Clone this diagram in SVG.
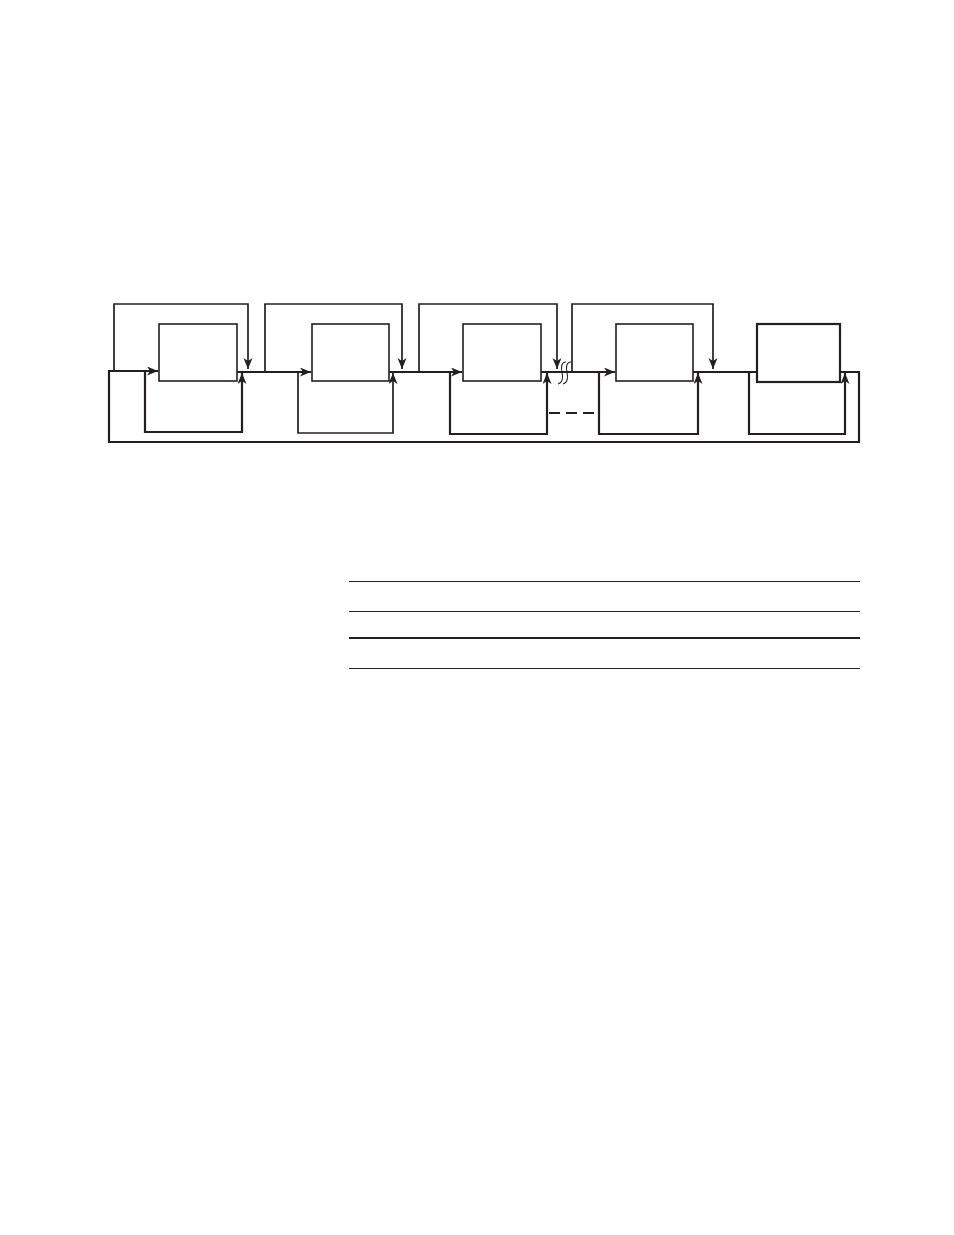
<svg xmlns="http://www.w3.org/2000/svg" width="954" height="1235" viewBox="0 0 954 1235">
<style>
.box{fill:#fff;stroke:#231f20;stroke-width:1.6}
.box5{fill:#fff;stroke:#231f20;stroke-width:2.2}
.ln{fill:none;stroke:#231f20;stroke-width:2.2;stroke-linejoin:miter}
.thin{fill:none;stroke:#231f20;stroke-width:1.7}
.sq{fill:none;stroke:#231f20;stroke-width:1.1}
.rule{stroke:#231f20;stroke-width:1.2}
.rule2{stroke:#231f20;stroke-width:2.2}
</style>
<defs>
<marker id="ah" markerUnits="userSpaceOnUse" markerWidth="14" markerHeight="12" refX="11" refY="4.5" orient="auto">
<path d="M0,0 L11,4.5 L0,9 L3,4.5 Z" fill="#231f20"/>
</marker>
</defs>
<rect width="954" height="1235" fill="#fff"/>
<g id="connectors">
<path class="ln" d="M840,372 H859 V442 H109 V371 H158" marker-end="url(#ah)"/>
<path class="ln" d="M237,372 H311" marker-end="url(#ah)"/>
<path class="ln" d="M389,372 H462" marker-end="url(#ah)"/>
<path class="ln" d="M541,372 H615" marker-end="url(#ah)"/>
<path class="ln" d="M693,372 H757"/>
<path class="ln" d="M145,372 V432 H242 V373" marker-end="url(#ah)"/>
<path class="thin" d="M298,372 V433 H393 V373" marker-end="url(#ah)"/>
<path class="ln" d="M450,372 V434 H547 V373" marker-end="url(#ah)"/>
<path class="ln" d="M599,372 V434 H698 V373" marker-end="url(#ah)"/>
<path class="ln" d="M749,372 V434 H845 V373" marker-end="url(#ah)"/>
<path class="thin" d="M114,371 V304 H248 V369" marker-end="url(#ah)"/>
<path class="thin" d="M265,371 V304 H402 V369" marker-end="url(#ah)"/>
<path class="thin" d="M419,371 V304 H557 V369" marker-end="url(#ah)"/>
<path class="thin" d="M572,371 V304 H713 V369" marker-end="url(#ah)"/>
<path class="ln" d="M549,413 H599" stroke-dasharray="11 6"/>
<path class="sq" d="M566,362 C561,362 561,368 562,372 C563,377 563,383 558,384"/>
<path class="sq" d="M571,362 C566,362 566,368 567,372 C568,377 568,383 563,384"/>
</g>
<g id="n1"><rect class="box" x="159" y="324" width="78" height="57"/></g>
<g id="n2"><rect class="box" x="312" y="324" width="77" height="57"/></g>
<g id="n3"><rect class="box" x="463" y="324" width="78" height="57"/></g>
<g id="n4"><rect class="box" x="616" y="324" width="77" height="57"/></g>
<g id="n5"><rect class="box5" x="757" y="324" width="83" height="58"/></g>
<g id="table">
<line class="rule" x1="349" y1="581.5" x2="860" y2="581.5"/>
<line class="rule" x1="349" y1="611.5" x2="860" y2="611.5"/>
<line class="rule2" x1="349" y1="638" x2="860" y2="638"/>
<line class="rule" x1="349" y1="668.5" x2="860" y2="668.5"/>
</g>
</svg>
